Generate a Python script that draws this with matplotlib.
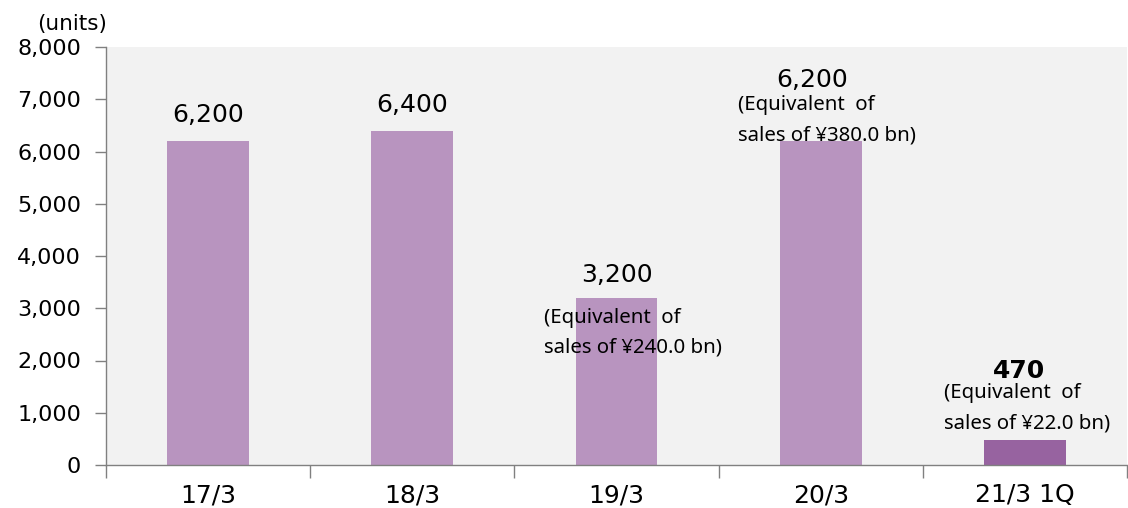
import matplotlib
matplotlib.use("Agg")
import matplotlib.pyplot as plt

categories = ["17/3", "18/3", "19/3", "20/3", "21/3 1Q"]
values = [6200, 6400, 3200, 6200, 470]
value_labels = ["6,200", "6,400", "3,200", "6,200", "470"]
notes = [None, None,
         ("(Equivalent  of", "sales of ¥240.0 bn)"),
         ("(Equivalent  of", "sales of ¥380.0 bn)"),
         ("(Equivalent  of", "sales of ¥22.0 bn)")]
yticks = [0, 1000, 2000, 3000, 4000, 5000, 6000, 7000, 8000]

bar_colors = ["#b894bf", "#b894bf", "#b894bf", "#b894bf", "#9763a0"]
label_offsets = [(0, 19), (0, 19), (0, 16), (-9, 54), (-6, 62)]  # pixels
label_bold = [False, False, False, False, True]
note_offsets = [None, None, (-73, -25), (-83, 31), (-81, 42)]  # left x, first baseline (pixels)
note_gap = 30

fig = plt.figure(figsize=(11.28, 5.08), dpi=100)
ax = fig.add_axes([106/1128, 43/508, (1127-106)/1128, (465-47)/508])
ax.set_facecolor("#f2f2f2")

x = list(range(len(categories)))
ax.bar(x, values, width=0.4, color=bar_colors, zorder=2)

ax.set_xlim(-0.5, len(categories) - 0.5)
ax.set_ylim(0, 8000)
ax.set_yticks(yticks)
ax.set_yticklabels([f"{v:,}" for v in yticks], fontsize=16, family="DejaVu Sans", color="#000000")
ax.tick_params(axis="y", length=8, width=1, color="#808080", pad=10)

ax.set_xticks(x)
ax.set_xticklabels(categories, fontsize=18, family="DejaVu Sans")
ax.tick_params(axis="x", which="major", length=0, pad=13)
ax.set_xticks([i - 0.5 for i in range(len(categories) + 1)], minor=True)
ax.tick_params(axis="x", which="minor", length=9, width=1, color="#808080", direction="out")

for s in ["top", "right"]:
    ax.spines[s].set_visible(False)
for s in ["left", "bottom"]:
    ax.spines[s].set_color("#808080")
    ax.spines[s].set_linewidth(1)

for i, (v, lab) in enumerate(zip(values, value_labels)):
    dx, dy = label_offsets[i]
    ax.annotate(lab, xy=(i, v), xytext=(dx, dy), textcoords="offset pixels",
                ha="center", va="baseline", fontsize=18, family="DejaVu Sans",
                fontweight="bold" if label_bold[i] else "normal", zorder=3)
    if notes[i] is not None:
        nx, ny = note_offsets[i]
        for k, line in enumerate(notes[i]):
            ax.annotate(line, xy=(i, v), xytext=(nx, ny - k * note_gap), textcoords="offset pixels",
                        ha="left", va="baseline", fontsize=14.7, family="Noto Sans", zorder=3)

fig.text(72/1128, 1 - 30/508, "(units)", ha="center", va="baseline", fontsize=15.5, family="DejaVu Sans")

fig.savefig("out.png", dpi=100)
